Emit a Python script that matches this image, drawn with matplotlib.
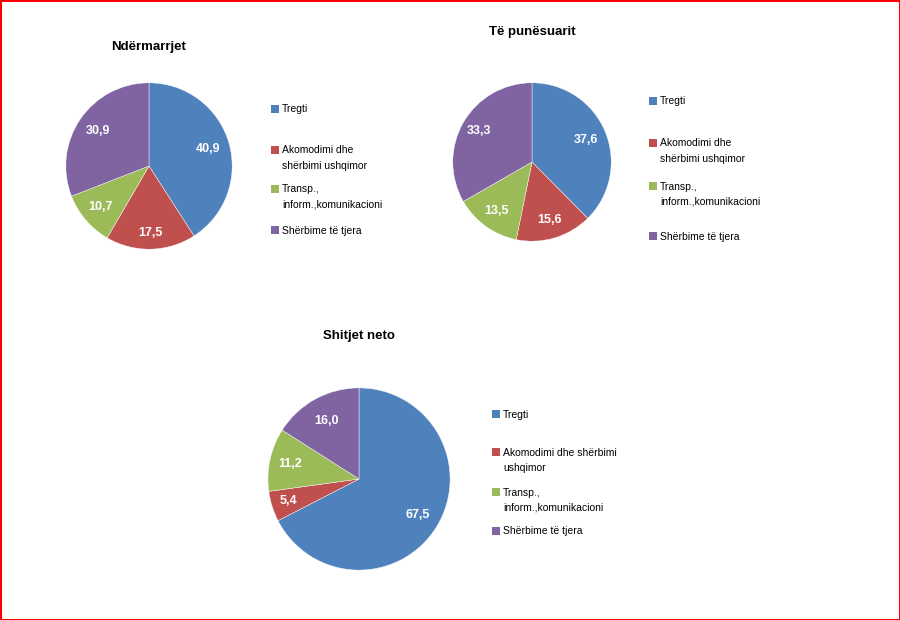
import numpy as np
import matplotlib.pyplot as plt
from matplotlib.patches import Rectangle

plt.rcParams["font.family"] = ["Liberation Sans", "DejaVu Sans"]

colors = ["#4F81BD", "#C0504D", "#9BBB59", "#8064A2"]

titles = ["Ndërmarrjet", "Të punësuarit", "Shitjet neto"]

vals_ndermarrjet = [40.9, 17.5, 10.7, 30.9]
vals_punesuarit = [37.6, 15.6, 13.5, 33.3]
vals_shitjet = [67.5, 5.4, 11.2, 16.0]

labels_top = [
    "Tregti",
    "Akomodimi dhe\nshërbimi ushqimor",
    "Transp.,\ninform.,komunikacioni",
    "Shërbime të tjera",
]
labels_bottom = [
    "Tregti",
    "Akomodimi dhe shërbimi\nushqimor",
    "Transp.,\ninform.,komunikacioni",
    "Shërbime të tjera",
]

W, H = 900, 620
fig = plt.figure(figsize=(W / 100, H / 100), dpi=100)
fig.patch.set_edgecolor("red")
fig.patch.set_linewidth(2)


def fx(x):
    return x / W


def fy(y):
    return 1 - y / H


# chart layouts in pixels: centre, radius, title y, label distances,
# legend x, legend item y's
charts = [
    dict(vals=vals_ndermarrjet, labels=labels_top, title=titles[0],
         cx=149, cy=166, r=84, ty=47, dist=[0.74, 0.81, 0.76, 0.75],
         lx=271, ly=[109, 150, 189, 230]),
    dict(vals=vals_punesuarit, labels=labels_top, title=titles[1],
         cx=532, cy=162, r=80, ty=32, dist=[0.73, 0.76, 0.76, 0.78],
         lx=649, ly=[101, 143, 186, 236]),
    dict(vals=vals_shitjet, labels=labels_bottom, title=titles[2],
         cx=359, cy=479, r=92, ty=336, dist=[0.76, 0.81, 0.78, 0.73],
         lx=492, ly=[414, 452, 492, 531]),
]

for c in charts:
    cx, cy, r = c["cx"], c["cy"], c["r"]
    ax = fig.add_axes([fx(cx - r), fy(cy + r), 2 * r / W, 2 * r / H])
    wedges, _ = ax.pie(
        c["vals"],
        colors=colors,
        startangle=90,
        counterclock=False,
        radius=1,
        wedgeprops=dict(edgecolor="white", linewidth=0.3),
    )
    ax.set_xlim(-1.01, 1.01)
    ax.set_ylim(-1.01, 1.01)
    ax.set_aspect("equal")
    ax.axis("off")

    for w, v, d in zip(wedges, c["vals"], c["dist"]):
        ang = np.deg2rad((w.theta1 + w.theta2) / 2)
        ax.text(
            d * np.cos(ang), d * np.sin(ang),
            f"{v:.1f}".replace(".", ","),
            color="white", fontsize=9, fontweight="bold",
            ha="center", va="center",
        )

    fig.text(fx(cx), fy(c["ty"]), c["title"], fontsize=9.5,
             fontweight="bold", ha="center", va="center")

    for col, lab, y in zip(colors, c["labels"], c["ly"]):
        fig.patches.append(
            Rectangle((fx(c["lx"]), fy(y + 4)), 8 / W, 8 / H,
                      facecolor=col, edgecolor="none",
                      transform=fig.transFigure, figure=fig)
        )
        fig.text(fx(c["lx"] + 11), fy(y - 4.5), lab, fontsize=7.5,
                 ha="left", va="top", linespacing=1.65)

fig.savefig("out.png", dpi=100)
